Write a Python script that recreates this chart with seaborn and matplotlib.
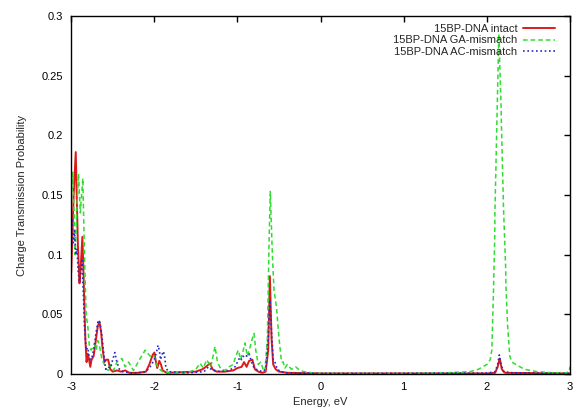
import matplotlib
matplotlib.use("Agg")
import matplotlib.pyplot as plt
import seaborn as sns
from matplotlib.ticker import FuncFormatter

# energy (eV) / transmission values
intact_x = [-3.00, -2.97, -2.945, -2.92, -2.90, -2.885, -2.865, -2.85, -2.83, -2.815,
            -2.80, -2.785, -2.77, -2.755, -2.73, -2.71, -2.68, -2.66, -2.64, -2.62,
            -2.60, -2.58, -2.555, -2.53, -2.50, -2.45, -2.40, -2.35, -2.30, -2.20,
            -2.10, -2.06, -2.02, -2.00, -1.98, -1.965, -1.94, -1.92, -1.90, -1.85,
            -1.50, -1.42, -1.38, -1.33, -1.30, -1.25, -1.15, -1.05, -1.00, -0.95,
            -0.92, -0.89, -0.86, -0.82, -0.79, -0.75, -0.70, -0.66, -0.63, -0.61,
            -0.59, -0.57, -0.54, -0.50, -0.40, 0.00, 1.00, 2.00, 2.10, 2.13,
            2.155, 2.18, 2.22, 3.00]
intact_y = [0.085, 0.150, 0.186, 0.110, 0.076, 0.090, 0.115, 0.080, 0.030, 0.010,
            0.017, 0.012, 0.006, 0.012, 0.015, 0.025, 0.040, 0.044, 0.035, 0.020,
            0.010, 0.012, 0.012, 0.004, 0.002, 0.003, 0.002, 0.003, 0.001, 0.001,
            0.002, 0.008, 0.016, 0.018, 0.010, 0.005, 0.011, 0.008, 0.003, 0.001,
            0.002, 0.004, 0.006, 0.009, 0.004, 0.002, 0.002, 0.003, 0.005, 0.006,
            0.010, 0.006, 0.011, 0.012, 0.004, 0.002, 0.001, 0.002, 0.020, 0.082,
            0.030, 0.008, 0.004, 0.002, 0.001, 0.0005, 0.0005, 0.0005, 0.001, 0.006,
            0.013, 0.004, 0.001, 0.0005]

ga_x = [-3.00, -2.98, -2.952, -2.93, -2.912, -2.89, -2.86, -2.84, -2.82, -2.80,
        -2.78, -2.76, -2.72, -2.70, -2.68, -2.66, -2.63, -2.60, -2.58, -2.55,
        -2.52, -2.49, -2.45, -2.39, -2.35, -2.31, -2.25, -2.17, -2.11, -2.05,
        -2.01, -1.955, -1.90, -1.80, -1.60, -1.50, -1.45, -1.41, -1.37, -1.32,
        -1.27, -1.24, -1.20, -1.15, -1.10, -1.05, -1.02, -0.99, -0.96, -0.93,
        -0.91, -0.88, -0.85, -0.82, -0.80, -0.78, -0.75, -0.72, -0.69, -0.67,
        -0.64, -0.62, -0.605, -0.58, -0.56, -0.53, -0.50, -0.47, -0.45, -0.43,
        -0.40, -0.35, -0.30, -0.25, -0.20, -0.10, 0.00, 1.00, 1.50,
        1.80, 1.90, 1.95, 2.00, 2.04, 2.06, 2.08, 2.095, 2.097, 2.144,
        2.172, 2.175, 2.20, 2.226, 2.229, 2.25, 2.276, 2.30, 2.35, 2.45,
        2.60, 2.80, 2.95, 2.99, 3.00]
ga_y = [0.140, 0.169, 0.100, 0.140, 0.168, 0.135, 0.164, 0.100, 0.050, 0.040,
        0.022, 0.020, 0.025, 0.020, 0.028, 0.024, 0.012, 0.008, 0.004, 0.003,
        0.008, 0.003, 0.010, 0.013, 0.006, 0.010, 0.003, 0.013, 0.020, 0.015,
        0.016, 0.005, 0.002, 0.001, 0.001, 0.004, 0.009, 0.005, 0.012, 0.006,
        0.023, 0.010, 0.004, 0.003, 0.006, 0.008, 0.015, 0.020, 0.012, 0.020,
        0.026, 0.015, 0.022, 0.030, 0.034, 0.020, 0.008, 0.010, 0.004, 0.002,
        0.030, 0.110, 0.153, 0.100, 0.070, 0.056, 0.030, 0.010, 0.010, 0.005,
        0.008, 0.004, 0.006, 0.003, 0.002, 0.001, 0.0005, 0.0005, 0.001,
        0.002, 0.004, 0.006, 0.008, 0.012, 0.020, 0.070, 0.115, 0.135, 0.285,
        0.222, 0.210, 0.140, 0.090, 0.075, 0.040, 0.015, 0.010, 0.008, 0.004,
        0.002, 0.001, 0.001, 0.002, 0.006]

ac_x = [-3.00, -2.99, -2.975, -2.96, -2.945, -2.93, -2.915, -2.90, -2.885, -2.87,
        -2.855, -2.84, -2.82, -2.80, -2.785, -2.77, -2.75, -2.73, -2.70, -2.675,
        -2.655, -2.635, -2.62, -2.60, -2.585, -2.56, -2.53, -2.50, -2.475, -2.45,
        -2.42, -2.38, -2.30, -2.20, -2.10, -2.05, -2.00, -1.975, -1.955, -1.94,
        -1.925, -1.91, -1.89, -1.875, -1.86, -1.83, -1.60, -1.40, -1.35, -1.30,
        -1.20, -1.10, -1.03, -1.00, -0.97, -0.95, -0.92, -0.89, -0.86, -0.83,
        -0.80, -0.75, -0.70, -0.66, -0.63, -0.61, -0.59, -0.57, -0.55, -0.52,
        -0.48, -0.40, 0.00, 2.00, 2.10, 2.13, 2.15, 2.17, 2.20, 2.30, 3.00]
ac_y = [0.120, 0.130, 0.110, 0.120, 0.100, 0.105, 0.085, 0.078, 0.085, 0.095,
        0.070, 0.040, 0.020, 0.022, 0.015, 0.012, 0.014, 0.020, 0.035, 0.045,
        0.043, 0.035, 0.025, 0.012, 0.004, 0.006, 0.005, 0.012, 0.018, 0.010,
        0.004, 0.002, 0.001, 0.001, 0.002, 0.006, 0.012, 0.018, 0.024, 0.020,
        0.012, 0.016, 0.019, 0.014, 0.005, 0.002, 0.001, 0.002, 0.006, 0.003,
        0.002, 0.003, 0.006, 0.010, 0.014, 0.012, 0.016, 0.015, 0.017, 0.010,
        0.005, 0.003, 0.002, 0.004, 0.030, 0.062, 0.035, 0.012, 0.010, 0.004,
        0.002, 0.001, 0.0005, 0.0008, 0.002, 0.008, 0.016, 0.008, 0.002, 0.001,
        0.0005]

labels = ["15BP-DNA intact", "15BP-DNA GA-mismatch", "15BP-DNA AC-mismatch"]
x_ticks = [-3, -2, -1, 0, 1, 2, 3]
y_ticks = [0, 0.05, 0.1, 0.15, 0.2, 0.25, 0.3]

sns.set_style("white")
plt.rcParams['font.family'] = ['Liberation Sans', 'DejaVu Sans']
plt.rcParams['axes.unicode_minus'] = False

fig, ax = plt.subplots(figsize=(5.74, 4.11), dpi=100)
fig.subplots_adjust(left=0.124, right=0.993, top=0.961, bottom=0.09)

sns.lineplot(x=intact_x, y=intact_y, ax=ax, color="#dd1a1a", lw=1.4, label=labels[0])
sns.lineplot(x=ga_x, y=ga_y, ax=ax, color="#2fdc2f", lw=1.1, linestyle=(0, (3, 2)), label=labels[1])
sns.lineplot(x=ac_x, y=ac_y, ax=ax, color="#2a2ac8", lw=1.2, linestyle=(0, (1, 1.6)), label=labels[2])

ax.set_xlim(-3, 3)
ax.set_ylim(0, 0.3)
ax.set_xticks(x_ticks)
ax.set_yticks(y_ticks)
ax.xaxis.set_major_formatter(FuncFormatter(lambda v, p: "%g" % v))
ax.yaxis.set_major_formatter(FuncFormatter(lambda v, p: "%g" % v))
ax.tick_params(direction="in", length=4, width=1, top=True, right=True,
               labelsize=8, pad=6, colors="black")
for s in ax.spines.values():
    s.set_color("black")
    s.set_linewidth(1.0)

ax.set_xlabel("Energy, eV", fontsize=8, labelpad=3)
ax.set_ylabel("Charge Transmission Probability", fontsize=8, labelpad=10)

leg = ax.legend(loc="upper right", bbox_to_anchor=(0.986, 1.0), frameon=False,
                markerfirst=False, fontsize=8, handlelength=2.9, labelspacing=0.15,
                borderaxespad=0.3, handletextpad=0.5)

plt.savefig("out.png", dpi=100)
